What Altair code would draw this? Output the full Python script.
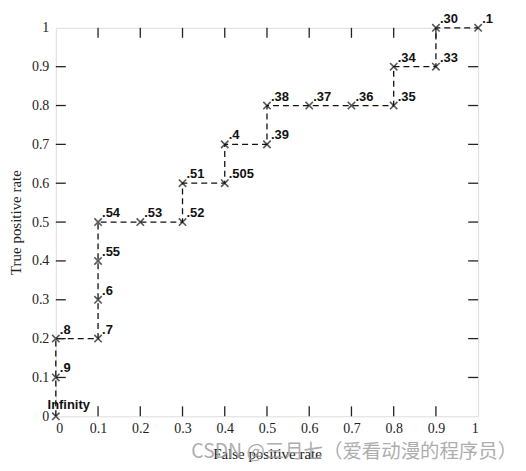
import altair as alt
import pandas as pd

# ROC points
fpr = [0, 0, 0, 0.1, 0.1, 0.1, 0.1, 0.2, 0.3, 0.3, 0.4, 0.4, 0.5, 0.5, 0.6, 0.7, 0.8, 0.8, 0.9, 0.9, 1.0]
tpr = [0, 0.1, 0.2, 0.2, 0.3, 0.4, 0.5, 0.5, 0.5, 0.6, 0.6, 0.7, 0.7, 0.8, 0.8, 0.8, 0.8, 0.9, 0.9, 1.0, 1.0]
thresholds = ["Infinity", ".9", ".8", ".7", ".6", ".55", ".54", ".53", ".52", ".51", ".505", ".4",
              ".39", ".38", ".37", ".36", ".35", ".34", ".33", ".30", ".1"]
tick_values = [0, 0.1, 0.2, 0.3, 0.4, 0.5, 0.6, 0.7, 0.8, 0.9, 1]
inner_ticks = [0.1, 0.2, 0.3, 0.4, 0.5, 0.6, 0.7, 0.8, 0.9]
watermark = "CSDN @三月七（爱看动漫的程序员）"

W, H = 424, 390

df = pd.DataFrame({"idx": range(len(fpr)), "fpr": fpr, "tpr": tpr, "label": thresholds})
ticks_df = pd.DataFrame({"v": inner_ticks})

xscale = alt.Scale(domain=[0, 1], nice=False, zero=False)
yscale = alt.Scale(domain=[0, 1], nice=False, zero=False)

serif = "Liberation Serif"
sans = "Liberation Sans"

xaxis = alt.Axis(values=tick_values, format="~g", domain=False, ticks=False, grid=False,
                 labelOverlap=False, labelFont=serif, labelFontSize=14, labelColor="#222",
                 labelPadding=5, title="False positive rate", titleFont=serif, titleFontSize=15,
                 titleFontWeight="normal", titleColor="#222", titlePadding=11)
yaxis = alt.Axis(values=tick_values, format="~g", domain=False, ticks=False, grid=False,
                 labelOverlap=False, labelFont=serif, labelFontSize=14, labelColor="#222",
                 labelPadding=7, title="True positive rate", titleFont=serif, titleFontSize=15,
                 titleFontWeight="normal", titleColor="#222", titlePadding=8)

base = alt.Chart(df)

line = base.mark_line(color="#111", strokeWidth=1.3, strokeDash=[6, 4]).encode(
    x=alt.X("fpr:Q", scale=xscale, axis=xaxis),
    y=alt.Y("tpr:Q", scale=yscale, axis=yaxis),
    order="idx:Q",
)

cross = "M-1,-1L1,1M-1,1L1,-1"
pts = base.mark_point(shape=cross, size=55, color="#111", strokeWidth=1.6, filled=False).encode(
    x=alt.X("fpr:Q", scale=xscale, axis=xaxis), y=alt.Y("tpr:Q", scale=yscale, axis=yaxis)
)

labels = base.transform_filter("datum.label != 'Infinity'").mark_text(
    font=sans, fontWeight="bold", fontSize=13, color="#111", align="left",
    baseline="alphabetic", dx=4, dy=-5
).encode(x=alt.X("fpr:Q", scale=xscale, axis=xaxis), y=alt.Y("tpr:Q", scale=yscale, axis=yaxis),
         text="label:N")

inf_label = base.transform_filter("datum.label == 'Infinity'").mark_text(
    font=sans, fontWeight="bold", fontSize=13, color="#111", align="center",
    baseline="alphabetic", dx=13, dy=-7
).encode(x=alt.X("fpr:Q", scale=xscale, axis=xaxis), y=alt.Y("tpr:Q", scale=yscale, axis=yaxis),
         text="label:N")

tc = alt.Chart(ticks_df)
tick_style = dict(color="#222", strokeWidth=1.3)
t_bottom = tc.mark_rule(**tick_style).encode(x=alt.X("v:Q", scale=xscale, axis=xaxis),
                                             y=alt.value(H), y2=alt.value(H - 10))
t_top = tc.mark_rule(**tick_style).encode(x=alt.X("v:Q", scale=xscale, axis=xaxis),
                                          y=alt.value(0), y2=alt.value(10))
t_left = tc.mark_rule(**tick_style).encode(y=alt.Y("v:Q", scale=yscale, axis=yaxis),
                                           x=alt.value(0), x2=alt.value(10))
t_right = tc.mark_rule(**tick_style).encode(y=alt.Y("v:Q", scale=yscale, axis=yaxis),
                                            x=alt.value(W), x2=alt.value(W - 10))

wm = alt.Chart(pd.DataFrame({"t": [watermark]})).mark_text(
    font="Noto Sans CJK SC", fontSize=19.5, color="#a0a0a0", opacity=0.85, align="left",
    baseline="alphabetic"
).encode(text="t:N", x=alt.value(136), y=alt.value(432))

chart = alt.layer(line, pts, labels, inf_label, t_bottom, t_top, t_left, t_right, wm).properties(
    width=W, height=H,
    autosize=alt.AutoSizeParams(type="none"),
    padding={"left": 48, "top": 19, "right": 40, "bottom": 56},
).configure_view(stroke="#111", strokeWidth=1.8).configure(background="white")

chart.save("out.html", embed_options={"renderer": "svg", "actions": False})
